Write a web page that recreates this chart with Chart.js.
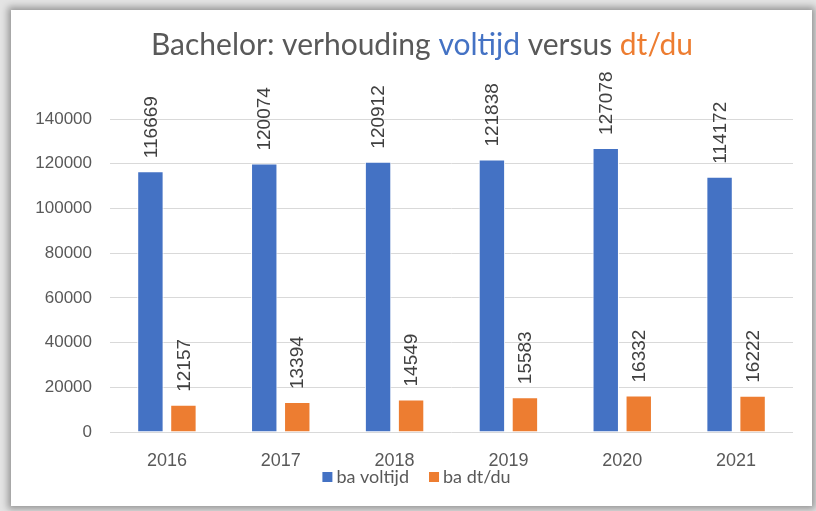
<!DOCTYPE html>
<html>
<head>
<meta charset="utf-8">
<script src="https://cdn.jsdelivr.net/npm/chart.js@4.4.0/dist/chart.umd.min.js"></script>
<style>
  html, body { margin: 0; padding: 0; }
  body { width: 816px; height: 511px; background: #e4e4e4; position: relative; overflow: hidden; }
  .frame {
    position: absolute; left: 11px; top: 10px; width: 801px; height: 496px;
    background: #fff; box-shadow: 0 0 7px 3px rgba(0, 0, 0, 0.35);
  }
  .wrap { position: absolute; left: 0; top: 0; width: 816px; height: 511px; }
</style>
</head>
<body>
<div class="frame"></div>
<div class="wrap"><canvas id="chart" width="816" height="511"></canvas></div>
<script>
  const years = ['2016', '2017', '2018', '2019', '2020', '2021'];
  const voltijd = [116669, 120074, 120912, 121838, 127078, 114172];
  const dtdu = [12157, 13394, 14549, 15583, 16332, 16222];
  const yTicks = [0, 20000, 40000, 60000, 80000, 100000, 120000, 140000];

  const blue = '#4472c4';
  const orange = '#ed7d31';
  const grey = '#595959';

  // title with coloured words, drawn by hand because Chart.js titles are one colour
  const titlePlugin = {
    id: 'colourTitle',
    afterDraw(chart) {
      const ctx = chart.ctx;
      const parts = [
        ['Bachelor: verhouding ', grey],
        ['voltijd', blue],
        [' versus ', grey],
        ['dt/du', orange],
      ];
      ctx.save();
      ctx.font = '30px Lato';
      ctx.textBaseline = 'middle';
      ctx.textAlign = 'left';
      const total = parts.reduce((s, p) => s + ctx.measureText(p[0]).width, 0);
      let x = 422 - total / 2;
      parts.forEach(([txt, col]) => {
        ctx.fillStyle = col;
        ctx.fillText(txt, x, 45);
        x += ctx.measureText(txt).width;
      });
      ctx.restore();
    },
  };

  // legend sits tight under the year labels, closer than the built-in legend allows
  const legendPlugin = {
    id: 'tightLegend',
    afterDraw(chart) {
      const ctx = chart.ctx;
      ctx.save();
      ctx.font = '18px Lato';
      ctx.textBaseline = 'middle';
      ctx.textAlign = 'left';
      const items = chart.data.datasets.map((ds) => ({
        text: ds.label,
        color: ds.backgroundColor,
        w: 10 + 4 + ctx.measureText(ds.label).width,
      }));
      const gap = 20;
      const total = items.reduce((s, it) => s + it.w, 0) + gap * (items.length - 1);
      let x = 416.5 - total / 2;
      const cy = 477;
      items.forEach((it) => {
        ctx.fillStyle = it.color;
        ctx.fillRect(x, cy - 5, 10, 10);
        ctx.fillStyle = grey;
        ctx.fillText(it.text, x + 14, cy);
        x += it.w + gap;
      });
      ctx.restore();
    },
  };

  // vertical value labels above each bar
  const valueLabels = {
    id: 'valueLabels',
    afterDatasetsDraw(chart) {
      const ctx = chart.ctx;
      ctx.save();
      ctx.font = '19px "Liberation Sans", Arial';
      ctx.fillStyle = '#404040';
      ctx.textAlign = 'left';
      ctx.textBaseline = 'middle';
      chart.data.datasets.forEach((ds, i) => {
        chart.getDatasetMeta(i).data.forEach((bar, j) => {
          ctx.save();
          ctx.translate(bar.x + 1, bar.y - 13);
          ctx.rotate(-Math.PI / 2);
          ctx.fillText(String(ds.data[j]), 0, 0);
          ctx.restore();
        });
      });
      ctx.restore();
    },
  };

  new Chart(document.getElementById('chart'), {
    type: 'bar',
    data: {
      labels: years,
      datasets: [
        { label: 'ba voltijd', data: voltijd, backgroundColor: blue, borderColor: '#ffffff', borderWidth: 1 },
        { label: 'ba dt/du', data: dtdu, backgroundColor: orange, borderColor: '#ffffff', borderWidth: 1 },
      ],
    },
    options: {
      responsive: false,
      animation: false,
      datasets: { bar: { categoryPercentage: 0.58, barPercentage: 0.8 } },
      layout: { padding: { top: 119, left: 0, right: 23, bottom: 0 } },
      scales: {
        x: {
          grid: { display: false },
          border: { display: false },
          ticks: { color: grey, font: { family: '"Liberation Sans", Arial', size: 18 }, padding: 10 },
          afterFit(scale) { scale.height = 79; },
        },
        y: {
          min: 0,
          max: 140000,
          afterBuildTicks(scale) { scale.ticks = yTicks.map((v) => ({ value: v })); },
          grid: { color: '#d9d9d9', lineWidth: 1, drawTicks: false },
          border: { display: false },
          ticks: {
            color: grey,
            font: { family: '"Liberation Sans", Arial', size: 17 },
            padding: 18,
            callback: (v) => String(v),
          },
          afterFit(scale) { scale.width = 110; },
        },
      },
      plugins: {
        legend: { display: false },
        tooltip: { enabled: false },
      },
    },
    plugins: [titlePlugin, legendPlugin, valueLabels],
  });
</script>
</body>
</html>
